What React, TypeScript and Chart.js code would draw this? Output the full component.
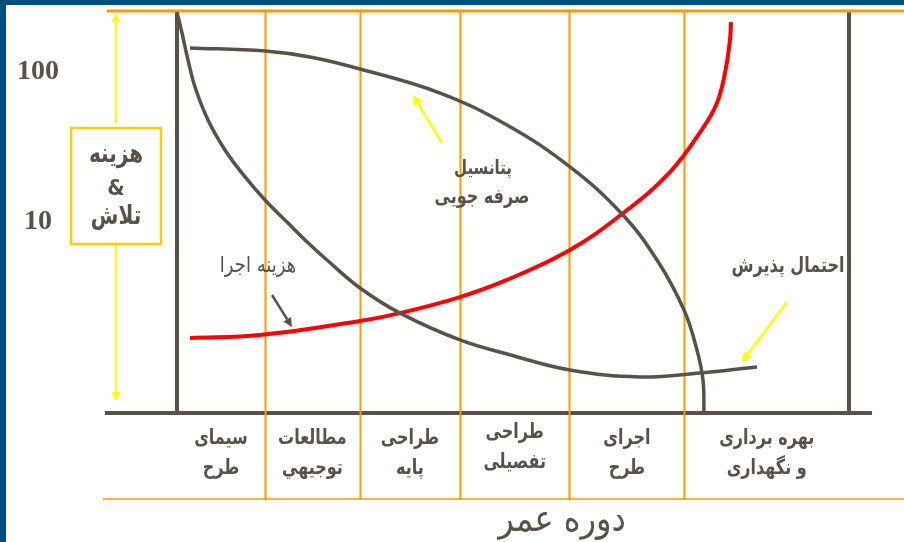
import React, { useEffect, useRef } from "react";
import { Chart, registerables } from "chart.js";

Chart.register(...registerables);

// ---- data ----
const phaseLabels: string[][] = [
  ["سیمای", "طرح"],
  ["مطالعات", "توجیهي"],
  ["طراحی", "پایه"],
  ["طراحی", "تفصیلی"],
  ["اجرای", "طرح"],
  ["بهره برداری", "و نگهداری"],
];
// life-cycle position (0..100) of each phase boundary
const phaseBoundaries = [0, 13.1, 27.2, 42.1, 58.4, 75.5, 100];
const yTickValues = [10, 100];
const Y_MIN = 0.533;
const Y_MAX = 251.2;

// acceptance probability
const acceptX = [0, 0.744, 1.637, 2.679, 4.613, 7.143, 9.673, 13.095, 16.52, 19.05, 22.32, 27.23, 33.18, 42.11, 49.1, 58.48, 68.9, 77.83, 86.31];
const acceptY = [251, 182, 120.2, 79.4, 47.9, 30.2, 21.2, 14.02, 9.85, 7.59, 5.58, 3.63, 2.47, 1.635, 1.318, 1.03, 0.926, 0.985, 1.08];
// saving potential
const savingX = [1.93, 13.1, 19.79, 27.23, 39.14, 49.1, 58.48, 66.22, 71.43, 75.45, 77.38, 78.27, 78.42];
const savingY = [144.5, 138, 125.9, 104.7, 72.4, 44.3, 23.3, 11.3, 5.58, 2.59, 1.4, 0.884, 0.541];
// implementation cost
const costX = [1.93, 12.35, 27.23, 33.18, 42.11, 49.1, 58.48, 66.22, 73.36, 78.27, 80.36, 81.55, 82.29, 82.44];
const costY = [1.685, 1.765, 2.188, 2.47, 3.16, 4.11, 6.51, 11.3, 21.5, 42.3, 62.1, 98.5, 163.4, 215.4];

const DARK = "#5a5148";
const ORANGE = "#ff9900";
const YELLOW = "#ffff00";
const GOLD = "#ffcc00";
const RED = "#ff0000";
const BLUE = "#004d80";
const FA = '"DejaVu Sans", sans-serif';

const zip = (xs: number[], ys: number[]) => xs.map((x, i) => ({ x, y: ys[i] }));

function arrow(ctx: CanvasRenderingContext2D, x1: number, y1: number, x2: number, y2: number, color: string, w: number, head: number) {
  const a = Math.atan2(y2 - y1, x2 - x1);
  const bx = x2 - Math.cos(a) * head;
  const by = y2 - Math.sin(a) * head;
  ctx.save();
  ctx.strokeStyle = color;
  ctx.fillStyle = color;
  ctx.lineWidth = w;
  ctx.beginPath();
  ctx.moveTo(x1, y1);
  ctx.lineTo(bx, by);
  ctx.stroke();
  ctx.beginPath();
  ctx.moveTo(x2, y2);
  ctx.lineTo(bx + Math.sin(a) * head * 0.5, by - Math.cos(a) * head * 0.5);
  ctx.lineTo(bx - Math.sin(a) * head * 0.5, by + Math.cos(a) * head * 0.5);
  ctx.closePath();
  ctx.fill();
  ctx.restore();
}

function text(ctx: CanvasRenderingContext2D, t: string, x: number, y: number, font: string, sy = 1) {
  ctx.save();
  ctx.font = font;
  ctx.fillStyle = DARK;
  ctx.textAlign = "center";
  ctx.textBaseline = "middle";
  ctx.translate(x, y);
  ctx.scale(1, sy);
  ctx.fillText(t, 0, 0);
  ctx.restore();
}

const decor = {
  id: "decor",
  beforeDatasetsDraw(chart: any) {
    const { ctx, chartArea: ca } = chart;
    const xs = chart.scales.x;
    const line = (x1: number, y1: number, x2: number, y2: number) => {
      ctx.beginPath();
      ctx.moveTo(x1, y1);
      ctx.lineTo(x2, y2);
      ctx.stroke();
    };
    ctx.save();
    ctx.fillStyle = BLUE;
    ctx.fillRect(0, 0, chart.width, 5);
    ctx.fillRect(0, 0, 6, chart.height);

    ctx.strokeStyle = DARK;
    ctx.lineWidth = 4;
    line(ca.left, ca.top, ca.left, ca.bottom);
    line(ca.right, ca.top, ca.right, ca.bottom);
    line(105, ca.bottom, 872, ca.bottom);

    ctx.strokeStyle = ORANGE;
    ctx.lineWidth = 3;
    line(107, 11, chart.width, 11);
    ctx.lineWidth = 1.5;
    line(103, 499, chart.width, 499);
    ctx.lineWidth = 2;
    phaseBoundaries.slice(1, -1).forEach((b) => {
      const px = Math.round(xs.getPixelForValue(b)) + 0.5;
      line(px, 11, px, 500);
    });
    ctx.restore();
  },
  afterDatasetsDraw(chart: any) {
    const { ctx } = chart;
    const xs = chart.scales.x;
    const ys = chart.scales.y;

    // y tick labels
    yTickValues.forEach((v) => {
      text(ctx, String(v), 38, ys.getPixelForValue(v), 'bold 28px "Liberation Serif", serif');
    });

    // phase labels
    phaseLabels.forEach((lines, i) => {
      const cx = xs.getPixelForValue((phaseBoundaries[i] + phaseBoundaries[i + 1]) / 2);
      const y0 = i === 3 ? 433 : 439;
      lines.forEach((t, j) => text(ctx, t, cx, y0 + j * 30, `bold 16px ${FA}`, 1.3));
    });

    // x title
    text(ctx, "دوره عمر", 562, 521, `32px ${FA}`, 1.15);

    // yellow double arrow + box
    arrow(ctx, 116, 123, 116, 13, YELLOW, 2, 9);
    arrow(ctx, 116, 244, 116, 401, YELLOW, 2, 9);
    ctx.save();
    ctx.strokeStyle = GOLD;
    ctx.lineWidth = 2.5;
    ctx.strokeRect(71, 128, 90, 116);
    ctx.restore();
    text(ctx, "هزینه", 116, 155, `bold 20px ${FA}`, 1.3);
    text(ctx, "&", 116, 189, `bold 20px ${FA}`, 1.1);
    text(ctx, "تلاش", 116, 217, `bold 20px ${FA}`, 1.3);

    // annotations
    text(ctx, "هزینه اجرا", 258, 266, `18px ${FA}`, 1.2);
    arrow(ctx, 272, 295, 292, 327, DARK, 2.5, 9);

    text(ctx, "پتانسیل", 483, 169, `bold 15px ${FA}`, 1.3);
    text(ctx, "صرفه جویی", 482, 198, `bold 16px ${FA}`, 1.3);
    arrow(ctx, 442, 143, 413, 95, YELLOW, 2.5, 10);

    text(ctx, "احتمال پذیرش", 788, 267, `bold 16px ${FA}`, 1.3);
    arrow(ctx, 787, 302, 742, 362, YELLOW, 2.5, 10);
  },
};

export default function App() {
  const ref = useRef<HTMLCanvasElement | null>(null);
  useEffect(() => {
    if (!ref.current) return;
    const common = { pointRadius: 0, fill: false, tension: 0.4, clip: false as any };
    const chart = new Chart(ref.current, {
      type: "line",
      data: {
        datasets: [
          { label: "احتمال پذیرش", data: zip(acceptX, acceptY), borderColor: DARK, borderWidth: 3.5, ...common },
          { label: "پتانسیل صرفه جویی", data: zip(savingX, savingY), borderColor: DARK, borderWidth: 3.5, ...common },
          { label: "هزینه اجرا", data: zip(costX, costY), borderColor: RED, borderWidth: 4, ...common },
        ],
      },
      options: {
        animation: false,
        responsive: false,
        devicePixelRatio: 1,
        events: [],
        layout: { padding: { left: 177, right: 55, top: 12, bottom: 129 } },
        scales: {
          x: { type: "linear", min: 0, max: 100, display: false },
          y: { type: "logarithmic", min: Y_MIN, max: Y_MAX, bounds: "data", display: false },
        },
        plugins: { legend: { display: false }, tooltip: { enabled: false } },
      },
      plugins: [decor],
    });
    return () => chart.destroy();
  }, []);
  return (
    <div style={{ position: "fixed", left: 0, top: 0, width: 904, height: 542, background: "#fff" }}>
      <canvas ref={ref} width={904} height={542} style={{ display: "block" }} />
    </div>
  );
}
